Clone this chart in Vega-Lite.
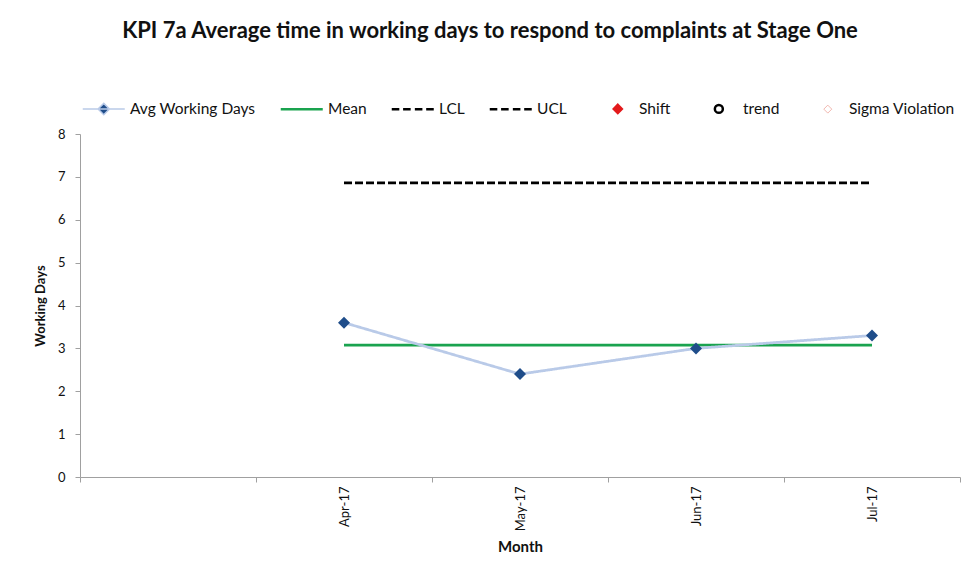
{
  "$schema": "https://vega.github.io/schema/vega-lite/v6.json",
  "width": 880,
  "height": 343,
  "autosize": {"type": "none"},
  "padding": {"left": 80, "top": 134, "right": 4, "bottom": 90},
  "background": "white",
  "title": {
    "text": "KPI 7a Average time in working days to respond to complaints at Stage One",
    "font": "Lato",
    "fontSize": 22,
    "fontWeight": "bold",
    "color": "#111111",
    "anchor": "middle",
    "dx": -30,
    "offset": 58
  },
  "config": {
    "view": {"stroke": null},
    "font": "Lato"
  },
  "data": {
    "values": [
      {"month": "Apr-17", "Avg Working Days": 3.6, "Mean": 3.075, "UCL": 6.86},
      {"month": "May-17", "Avg Working Days": 2.4, "Mean": 3.075, "UCL": 6.86},
      {"month": "Jun-17", "Avg Working Days": 3.0, "Mean": 3.075, "UCL": 6.86},
      {"month": "Jul-17", "Avg Working Days": 3.3, "Mean": 3.075, "UCL": 6.86}
    ]
  },
  "encoding": {
    "x": {
      "field": "month",
      "type": "nominal",
      "sort": null,
      "scale": {"type": "band", "domain": [" ", "Apr-17", "May-17", "Jun-17", "Jul-17"], "paddingInner": 0, "paddingOuter": 0},
      "axis": {
        "title": "Month",
        "titleFont": "Lato",
        "titleFontSize": 15,
        "titleFontWeight": "bold",
        "titleColor": "#111111",
        "titlePadding": 9,
        "labelAngle": -90,
        "labelFont": "Lato",
        "labelFontSize": 13,
        "labelColor": "#111111",
        "labelPadding": 4,
        "tickBand": "extent",
        "tickSize": 5,
        "tickColor": "#a0a0a0",
        "domainColor": "#a0a0a0",
        "grid": false
      }
    }
  },
  "layer": [
    {
      "transform": [{"fold": ["UCL", "Mean", "Avg Working Days"], "as": ["series", "value"]}],
      "mark": {"type": "line", "strokeWidth": 2.75},
      "encoding": {
        "y": {
          "field": "value",
          "type": "quantitative",
          "scale": {"domain": [0, 8]},
          "axis": {
            "title": "Working Days",
            "titleFont": "Lato",
            "titleFontSize": 13,
            "titleFontWeight": "bold",
            "titleColor": "#111111",
            "titlePadding": 10,
            "values": [0, 1, 2, 3, 4, 5, 6, 7, 8],
            "labelFont": "Lato",
            "labelFontSize": 13,
            "labelColor": "#111111",
            "labelPadding": 10,
            "tickSize": 5,
            "tickColor": "#a0a0a0",
            "domainColor": "#a0a0a0",
            "grid": false
          }
        },
        "color": {
          "field": "series",
          "type": "nominal",
          "scale": {
            "domain": ["Avg Working Days", "Mean", "LCL", "UCL", "Shift", "trend", "Sigma Violation"],
            "range": ["#b9cae8", "#1aa34f", "#000000", "#000000", "#e31a1c", "#000000", "#f2b8b0"]
          },
          "legend": {
            "orient": "none",
            "legendX": 16,
            "legendY": -33,
            "direction": "horizontal",
            "columns": 7,
            "columnPadding": 19,
            "title": null,
            "labelFont": "Lato",
            "labelFontSize": 15.5,
            "labelColor": "#111111",
            "labelOffset": 18.5,
            "labelLimit": 0,
            "symbolSize": 1764,
            "encode": {
              "symbols": {
                "update": {
                  "shape": {"signal": "datum.value === 'Avg Working Days' ? 'M-1,0H1M0,-0.27L0.27,0L0,0.27L-0.27,0Z' : datum.value === 'Mean' ? 'M-1,0H1' : (datum.value === 'LCL' || datum.value === 'UCL') ? 'M-1,0H-0.64M-0.46,0H-0.1M0.1,0H0.46M0.64,0H1' : datum.value === 'trend' ? 'M-1,0M-0.09,0A0.19,0.19,0,1,1,0.29,0A0.19,0.19,0,1,1,-0.09,0ZM1,0' : 'M-1,0M0.24,-0.19L0.43,0L0.24,0.19L0.05,0ZM1,0'"},
                  "stroke": {"signal": "datum.value === 'Avg Working Days' ? '#b9cae8' : datum.value === 'Mean' ? '#1aa34f' : datum.value === 'Shift' ? '#e31a1c' : datum.value === 'Sigma Violation' ? '#f0b5ad' : '#000000'"},
                  "fill": {"signal": "datum.value === 'Avg Working Days' ? '#1f4d8a' : datum.value === 'Shift' ? '#e31a1c' : 'transparent'"},
                  "strokeWidth": {"signal": "datum.value === 'Sigma Violation' ? 1 : datum.value === 'Avg Working Days' ? 1.5 : 2.5"},
                  "opacity": {"value": 1}
                }
              }
            }
          }
        },
        "strokeDash": {
          "field": "series",
          "type": "nominal",
          "scale": {"domain": ["Avg Working Days", "Mean", "UCL"], "range": [[1, 0], [1, 0], [8, 3]]},
          "legend": null
        }
      }
    },
    {
      "mark": {"type": "point", "shape": "diamond", "filled": true, "color": "#1f4d8a", "size": 144, "opacity": 1},
      "encoding": {
        "y": {"field": "Avg Working Days", "type": "quantitative"}
      }
    }
  ]
}
